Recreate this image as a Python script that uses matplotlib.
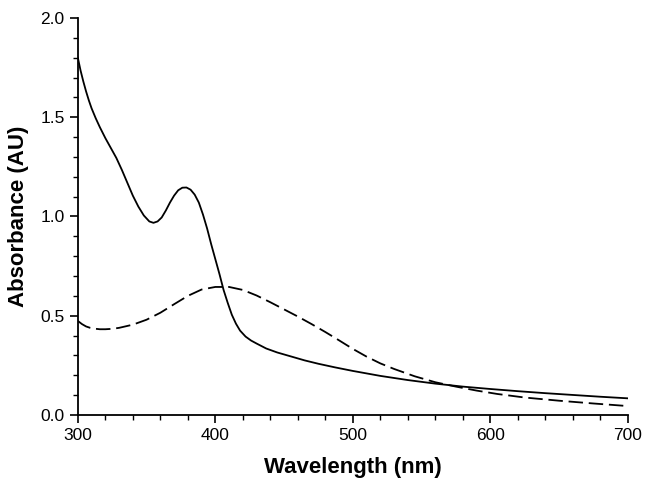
import matplotlib
matplotlib.use("Agg")
import matplotlib.pyplot as plt
from matplotlib.ticker import MultipleLocator

plt.rcParams['font.family'] = ['Liberation Sans', 'DejaVu Sans']

# Courbe pleine
wl_solid = [300, 302, 304, 306, 308, 310, 313, 316, 320, 324, 328, 332, 336, 340,
            344, 348, 352, 355, 358, 361, 364, 367, 370, 373, 376, 379, 382, 385,
            388, 391, 394, 397, 400, 403, 406, 409, 412, 415, 418, 422, 426, 430,
            437, 445, 455, 465, 475, 487, 500, 520, 540, 560, 580, 600, 620, 640,
            660, 680, 700]
abs_solid = [1.80, 1.735, 1.68, 1.63, 1.585, 1.545, 1.495, 1.45, 1.395, 1.345, 1.295,
             1.235, 1.17, 1.105, 1.05, 1.005, 0.975, 0.968, 0.975, 0.995, 1.03, 1.07,
             1.105, 1.132, 1.145, 1.146, 1.135, 1.11, 1.07, 1.01, 0.94, 0.86, 0.785,
             0.71, 0.63, 0.565, 0.505, 0.46, 0.425, 0.395, 0.375, 0.36, 0.335, 0.315,
             0.295, 0.275, 0.258, 0.24, 0.222, 0.197, 0.176, 0.158, 0.143, 0.131,
             0.12, 0.11, 0.101, 0.092, 0.084]

# Courbe en tirets
wl_dash = [300, 303, 306, 309, 312, 316, 320, 325, 330, 340, 350, 360, 370, 380,
           390, 400, 410, 420, 430, 440, 450, 460, 470, 480, 490, 500, 510, 520,
           530, 545, 560, 575, 590, 605, 625, 650, 675, 700]
abs_dash = [0.474, 0.458, 0.446, 0.439, 0.435, 0.432, 0.432, 0.434, 0.439, 0.455,
            0.48, 0.515, 0.558, 0.60, 0.632, 0.645, 0.645, 0.63, 0.602, 0.568, 0.532,
            0.496, 0.458, 0.418, 0.376, 0.333, 0.294, 0.26, 0.232, 0.195, 0.165,
            0.143, 0.123, 0.106, 0.088, 0.072, 0.058, 0.045]

fig = plt.figure(figsize=(6.54, 4.92), dpi=100)
ax = fig.add_axes([0.119, 0.1565, 0.841, 0.807])

ax.plot(wl_solid, abs_solid, color='black', lw=1.3, solid_joinstyle='round')
ax.plot(wl_dash, abs_dash, color='black', lw=1.3, dashes=(8, 3.2))

ax.set_xlim(300, 700)
ax.set_ylim(0, 2.0)
ax.xaxis.set_major_locator(MultipleLocator(100))
ax.xaxis.set_minor_locator(MultipleLocator(20))
ax.yaxis.set_major_locator(MultipleLocator(0.5))
ax.yaxis.set_minor_locator(MultipleLocator(0.1))
ax.yaxis.set_major_formatter(plt.FormatStrFormatter('%.1f'))

for s in ['top', 'right']:
    ax.spines[s].set_visible(False)
for s in ['left', 'bottom']:
    ax.spines[s].set_linewidth(1.3)

ax.tick_params(which='major', direction='out', length=6, width=1.2, labelsize=12.5)
ax.tick_params(which='minor', direction='out', length=3.5, width=1.0)

ax.set_xlabel("Wavelength (nm)", fontsize=16, fontweight='bold', labelpad=10)
ax.set_ylabel("Absorbance (AU)", fontsize=16, fontweight='bold', labelpad=8)

fig.savefig("out.png", dpi=100)
